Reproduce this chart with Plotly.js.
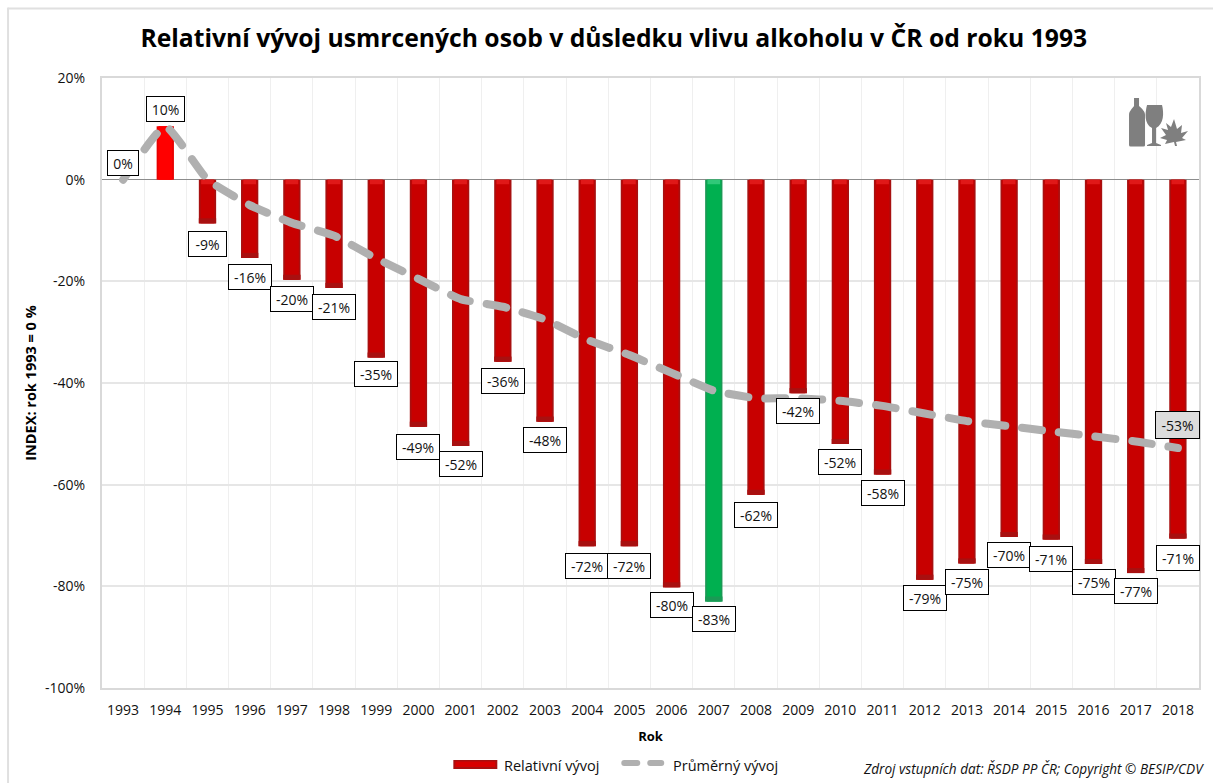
<!DOCTYPE html>
<html><head><meta charset="utf-8">
<script src="https://cdn.plot.ly/plotly-3.0.1.min.js"></script>
<style>
html,body{margin:0;padding:0;background:#fff}
#c{width:1213px;height:783px}
.scatterlayer .js-line{stroke-linecap:round}
.shapelayer path{stroke-linecap:round}
</style></head><body><div id="c"></div>
<script>
const years=['1993','1994','1995','1996','1997','1998','1999','2000','2001','2002','2003','2004','2005','2006','2007','2008','2009','2010','2011','2012','2013','2014','2015','2016','2017','2018'];
const relative=[0,10.5,-8.6,-15.4,-19.7,-21.3,-35,-48.6,-52.4,-35.8,-47.6,-72.1,-72.1,-80.2,-83,-62,-42,-52,-58,-78.7,-75.5,-70.3,-70.8,-75.6,-77.4,-70.6];
const average=[0,10.5,0,-5,-8.5,-11,-15.5,-19.5,-23.5,-25,-27.5,-31.5,-34.5,-38,-41.5,-43,-43,-43.5,-44.5,-46,-47.5,-48.5,-49.5,-50.5,-51.5,-52.8];
const barLabels=['0%','10%','-9%','-16%','-20%','-21%','-35%','-49%','-52%','-36%','-48%','-72%','-72%','-80%','-83%','-62%','-42%','-52%','-58%','-79%','-75%','-70%','-71%','-75%','-77%','-71%'];
const labelShift=[17,17,-21,-19,-19,-19,-16,-20,-18,-19,-18,-20,-20,-18,-17,-20,-18,-18,-18,-18,-19,-18,-19,-18,-18,-19];
const capValue=relative.map(v=>v===0?0:v>0?v:-0.9);
const footHeight=relative.map(v=>v<0?1:0);
const colors=years.map(y=>y==='1994'?'#ff0000':y==='2007'?'#00b050':'#c80000');
const edge=years.map(y=>y==='1994'?'#e80000':y==='2007'?'#1a9a55':'#a81010');
const caps=years.map(y=>y==='1994'?'#ff0000':y==='2007'?'#30c878':'#e01818');
const tickvals=[20,0,-20,-40,-60,-80,-100];
const ticktext=['20%','0%','-20%','-40%','-60%','-80%','-100%'];
const F='Open Sans, sans-serif';
const icon='<svg xmlns="http://www.w3.org/2000/svg" viewBox="0 0 60 50"><g fill="#7f7f7f"><path d="M6 1h5v8c3 3 6 5 6 9v30a1.500 1.500 0 0 1-1.500 1.500h-13a1.500 1.500 0 0 1-1.500-1.500v-30c0-4 3-6 5-9z"/><path d="M19 8h15c2 8 2 19-6 23v15l5 2v1h-14v-1l5-2v-15c-8-4-7-15-5-23z"/><path d="M46 22l3 10 5-4-1 8 7-2-6 7 4 2-10 2 1 4h-2l-1-4-9 2 2-4-7-2 6-3-5-7 7 2-2-7 5 4z"/></g></svg>';
const W=1213,H=783,L=101.5,R=1199,T=78,B=688;
const px=x=>(x-L)/(R-L), py=y=>(B-y)/(B-T);
const boxW=s=>s.length<=2?28:s.length===3?35:40;
const anns=years.map((y,i)=>({x:i,y:relative[i],xref:'x',yref:'y',yshift:labelShift[i],text:barLabels[i],showarrow:false,width:boxW(barLabels[i]),height:22,
 font:{family:F,size:14,color:'#111'},bgcolor:'#fff',bordercolor:'#000',borderwidth:1,borderpad:1}));
anns.push({x:25,y:average[25],xref:'x',yref:'y',yshift:23,text:'-53%',showarrow:false,width:41,height:24,font:{family:F,size:14,color:'#111'},bgcolor:'#dcdcdc',bordercolor:'#000',borderwidth:1,borderpad:1});
const txt={xref:'paper',yref:'paper',yanchor:'middle',showarrow:false};
anns.push({...txt,x:px(1206),xanchor:'right',y:py(769),text:'<i>Zdroj vstupních dat: ŘSDP PP ČR; Copyright © BESIP/CDV</i>',font:{family:F,size:13.6,color:'#111'}});
anns.push({...txt,x:px(502),xanchor:'left',y:py(765),text:'Relativní vývoj',font:{family:F,size:14.5,color:'#111'}});
anns.push({...txt,x:px(671),xanchor:'left',y:py(765),text:'Průměrný vývoj',font:{family:F,size:14.5,color:'#111'}});
const shp=(x0,y0,x1,y1,o)=>({type:'rect',xref:'paper',yref:'paper',x0:px(x0),x1:px(x1),y0:py(y0),y1:py(y1),line:{width:0},...o});
const shapes=[
 shp(453,760,497,769,{fillcolor:'#a81010'}),
 shp(455,761.5,495,767,{fillcolor:'#d80000'}),
 {type:'line',xref:'paper',yref:'paper',x0:px(624),x1:px(637),y0:py(763),y1:py(763),line:{color:'#b0b0b0',width:6}},
 {type:'line',xref:'paper',yref:'paper',x0:px(650),x1:px(661),y0:py(763),y1:py(763),line:{color:'#b0b0b0',width:6}},
 {type:'line',xref:'paper',yref:'paper',x0:px(7.500),x1:px(7.500),y0:py(8.500),y1:py(783),line:{color:'#e0e0e0',width:2}},
 {type:'line',xref:'paper',yref:'paper',x0:px(7.500),x1:px(1213),y0:py(8.500),y1:py(8.500),line:{color:'#e0e0e0',width:2}}
];
Plotly.newPlot('c',[
 {type:'bar',name:'Relativní vývoj',x:years,y:relative,width:0.41,marker:{color:edge,line:{width:0}},showlegend:false,hoverinfo:'skip'},
 {type:'bar',name:'core',x:years,y:relative,width:0.33,marker:{color:colors,line:{width:0}},showlegend:false,hoverinfo:'skip'},
 {type:'bar',name:'cap',x:years,y:capValue,width:0.3,marker:{color:caps,line:{width:0}},showlegend:false,hoverinfo:'skip'},
 {type:'bar',name:'foot',x:years,y:footHeight,base:relative,width:0.41,marker:{color:edge,line:{width:0}},showlegend:false,hoverinfo:'skip'},
 {type:'scatter',mode:'lines',name:'Průměrný vývoj',x:years,y:average,showlegend:false,line:{color:'#b0b0b0',width:8,dash:'20px,17px',shape:'spline',smoothing:0.4},hoverinfo:'skip'}
],{
 width:W,height:H,paper_bgcolor:'#fff',plot_bgcolor:'#fff',barmode:'overlay',showlegend:false,
 margin:{l:L,r:W-R,t:T,b:H-B,autoexpand:false},
 title:{text:'<b>Relativní vývoj usmrcených osob v důsledku vlivu alkoholu v ČR od roku 1993</b>',font:{family:F,size:24.7,color:'#000'},x:0.506,xanchor:'center',y:0.951,yanchor:'middle'},
 xaxis:{type:'category',categoryorder:'array',categoryarray:years,range:[-0.5,25.5],autorange:false,tickmode:'array',tickvals:years,ticktext:years,tickangle:0,showgrid:true,gridcolor:'#efefef',gridwidth:1,tickson:'boundaries',ticks:'',ticklabelstandoff:8,tickfont:{family:F,size:14,color:'#111'},
  zeroline:false,showline:true,linecolor:'#d9d9d9',linewidth:2,mirror:true,title:{text:'<b>Rok</b>',font:{family:F,size:13,color:'#000'},standoff:14}},
 yaxis:{range:[-100,20],autorange:false,tickvals,ticktext,showgrid:true,gridcolor:'#e6e6e6',gridwidth:2,ticks:'',ticklabelstandoff:12,tickfont:{family:F,size:14,color:'#111'},
  zeroline:true,zerolinecolor:'#8c8c8c',zerolinewidth:1,showline:true,linecolor:'#d9d9d9',linewidth:2,mirror:true,
  title:{text:'<b>INDEX: rok 1993 = 0 %</b>',font:{family:F,size:14.500,color:'#000'},standoff:5}},
 annotations:anns,shapes,
 images:[{source:'data:image/svg+xml;utf8,'+encodeURIComponent(icon),xref:'paper',yref:'paper',x:px(1128),y:py(97),sizex:60/(R-L),sizey:50/(B-T),xanchor:'left',yanchor:'top',sizing:'stretch',layer:'above'}]
},{staticPlot:true});
</script></body></html>
